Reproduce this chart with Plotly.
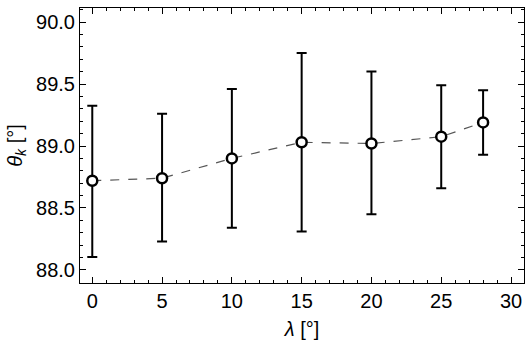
import plotly.graph_objects as go

lam = [0, 5, 10, 15, 20, 25, 28]
theta = [88.72, 88.74, 88.90, 89.03, 89.02, 89.075, 89.19]
upper = [89.325, 89.26, 89.46, 89.75, 89.60, 89.49, 89.45]
lower = [88.105, 88.23, 88.34, 88.31, 88.45, 88.66, 88.93]

err_plus = [u - t for u, t in zip(upper, theta)]
err_minus = [t - l for t, l in zip(theta, lower)]

fig = go.Figure()
fig.add_trace(go.Scatter(
    x=lam, y=theta, mode="lines",
    line=dict(color="#555555", width=1.2, dash="dash"),
    hoverinfo="skip", showlegend=False,
))
fig.add_trace(go.Scatter(
    x=lam, y=theta, mode="markers",
    marker=dict(size=10, color="white", line=dict(color="black", width=2.5)),
    error_y=dict(type="data", symmetric=False, array=err_plus, arrayminus=err_minus,
                 color="black", thickness=2, width=5),
    showlegend=False,
))

font = "Liberation Sans, Arial, sans-serif"
axis_common = dict(
    showline=True, linecolor="black", linewidth=1, mirror="ticks",
    ticks="inside", ticklen=6, tickwidth=1, tickcolor="black",
    showgrid=False, zeroline=False,
    tickfont=dict(family=font, size=20, color="black"),
)
fig.update_xaxes(
    range=[-0.88, 30.93], tickvals=[0, 5, 10, 15, 20, 25, 30],
    minor=dict(ticks="inside", ticklen=3, dtick=1, tick0=0, tickcolor="black", showgrid=False),
    title=dict(text="<i>λ</i> [°]", font=dict(family=font, size=20, color="black"), standoff=10),
    **axis_common,
)
fig.update_yaxes(
    range=[87.895, 90.113], tickvals=[88.0, 88.5, 89.0, 89.5, 90.0], tickformat=".1f",
    minor=dict(ticks="inside", ticklen=3, dtick=0.1, tick0=88.0, tickcolor="black", showgrid=False),
    title=dict(text="<i>θ</i><sub><i>k</i></sub> [°]", font=dict(family=font, size=20, color="black"), standoff=8),
    **axis_common,
)
fig.update_layout(
    width=532, height=349,
    margin=dict(l=80, r=8, t=8, b=66),
    plot_bgcolor="white", paper_bgcolor="white",
)
fig.write_html("out.html")
